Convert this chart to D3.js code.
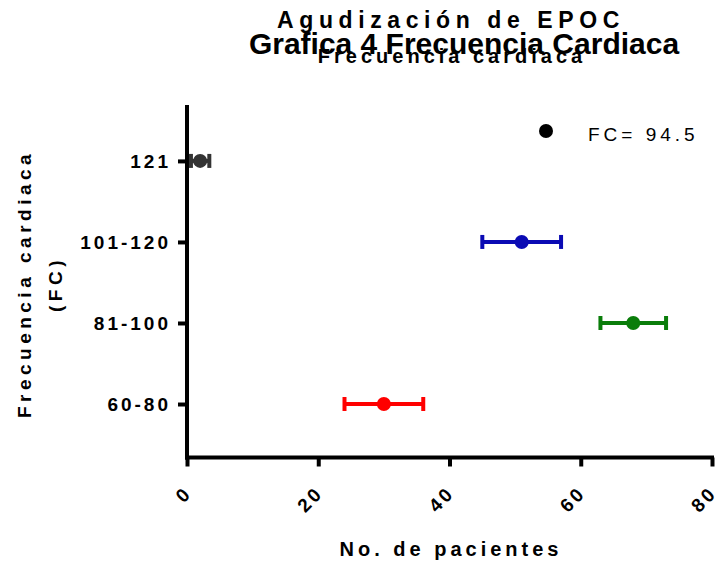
<!DOCTYPE html>
<html>
<head>
<meta charset="utf-8">
<script src="https://cdn.jsdelivr.net/npm/d3@7"></script>
<style>
  body { margin: 0; background: #fff; }
  svg { display: block; font-family: "Liberation Sans", Arial, sans-serif; }
</style>
</head>
<body>
<svg id="chart" width="717" height="561"></svg>
<script>
// data
const categories = ["60-80", "81-100", "101-120", "121"];
const means = [30, 68, 51, 2];
const lows = [24, 63, 45, 0.6];
const highs = [36, 73, 57, 3.4];
const xTicks = [0, 20, 40, 60, 80];
const legendLabel = "FC= 94.5";

const colors = ["#ff0000", "#0a7d0a", "#0a0ab4", "#333333"];

const svg = d3.select("#chart");

const x = d3.scaleLinear().domain([0, 80]).range([187, 712]);
const y = d3.scaleLinear().domain([0.34, 4.69]).range([457.5, 105]);

// titles
svg.append("text")
    .attr("x", 451).attr("y", 28)
    .attr("text-anchor", "middle")
    .attr("font-size", "23px").attr("font-weight", "bold")
    .attr("letter-spacing", "5.6px")
    .text("Agudización de EPOC");

svg.append("text")
    .attr("x", 464).attr("y", 54)
    .attr("text-anchor", "middle")
    .attr("font-size", "30px").attr("font-weight", "bold")
    .text("Grafica 4 Frecuencia Cardiaca");

svg.append("text")
    .attr("x", 452).attr("y", 63)
    .attr("text-anchor", "middle")
    .attr("font-size", "20px").attr("font-weight", "bold")
    .attr("letter-spacing", "4px")
    .text("Frecuencia cardiaca");

// axes
const yAxis = svg.append("g")
    .attr("transform", "translate(187,0)")
    .call(d3.axisLeft(y)
        .tickValues([1, 2, 3, 4])
        .tickFormat(i => categories[i - 1])
        .tickSizeOuter(0)
        .tickSizeInner(9)
        .tickPadding(7));

const xAxis = svg.append("g")
    .attr("transform", "translate(0,457.5)")
    .call(d3.axisBottom(x)
        .tickValues(xTicks)
        .tickSizeOuter(0)
        .tickSizeInner(9));

[yAxis, xAxis].forEach(g => {
    g.select(".domain").attr("stroke", "#000").attr("stroke-width", 4);
    g.selectAll(".tick line").attr("stroke", "#000").attr("stroke-width", 4);
});
// extend the y domain down to meet the x axis
yAxis.select(".domain").attr("d", `M0,${y.range()[1]}V${y.range()[0] + 2}`);
xAxis.select(".domain").attr("d", `M${x.range()[0] - 2},0H${x.range()[1] + 2}`);

yAxis.selectAll(".tick text")
    .attr("fill", "#000")
    .attr("font-size", "19px").attr("font-weight", "bold")
    .attr("font-family", "Liberation Sans, Arial, sans-serif")
    .attr("letter-spacing", "3px");

xAxis.selectAll(".tick text")
    .attr("fill", "#000")
    .attr("font-size", "19px").attr("font-weight", "bold")
    .attr("font-family", "Liberation Sans, Arial, sans-serif")
    .attr("letter-spacing", "3px")
    .attr("text-anchor", "end")
    .attr("y", 0).attr("dy", "0.35em")
    .attr("transform", "translate(1,32) rotate(-45)");

// axis titles
svg.append("text")
    .attr("x", 451).attr("y", 556)
    .attr("text-anchor", "middle")
    .attr("font-size", "20px").attr("font-weight", "bold")
    .attr("letter-spacing", "4px")
    .text("No. de pacientes");

const yTitle = svg.append("text")
    .attr("transform", "translate(31,284) rotate(-90)")
    .attr("text-anchor", "middle")
    .attr("font-size", "19px").attr("font-weight", "bold")
    .attr("letter-spacing", "4.5px");
yTitle.append("tspan").attr("x", 0).attr("dy", 0).text("Frecuencia cardiaca");
yTitle.append("tspan").attr("x", 0).attr("dy", 31).text("(FC)");

// error bars with mean points
const rows = categories.map((c, i) => ({ cat: i + 1, mean: means[i], lo: lows[i], hi: highs[i], color: colors[i] }));

const groups = svg.append("g").selectAll("g")
    .data(rows)
    .enter().append("g")
    .attr("stroke", d => d.color)
    .attr("fill", d => d.color);

groups.append("line")
    .attr("x1", d => x(d.lo)).attr("x2", d => x(d.hi))
    .attr("y1", d => y(d.cat)).attr("y2", d => y(d.cat))
    .attr("stroke-width", 4);

groups.selectAll(".cap")
    .data(d => [d.lo, d.hi].map(v => ({ v, cat: d.cat })))
    .enter().append("line")
    .attr("class", "cap")
    .attr("x1", d => x(d.v)).attr("x2", d => x(d.v))
    .attr("y1", d => y(d.cat) - 7).attr("y2", d => y(d.cat) + 7)
    .attr("stroke-width", 4);

groups.append("circle")
    .attr("cx", d => x(d.mean)).attr("cy", d => y(d.cat))
    .attr("r", 7)
    .attr("stroke", "none");

// legend
svg.append("circle")
    .attr("cx", 546).attr("cy", 131).attr("r", 7)
    .attr("fill", "#000");

svg.append("text")
    .attr("x", 588).attr("y", 141)
    .attr("font-size", "19px")
    .attr("letter-spacing", "4px")
    .text(legendLabel);
</script>
</body>
</html>
